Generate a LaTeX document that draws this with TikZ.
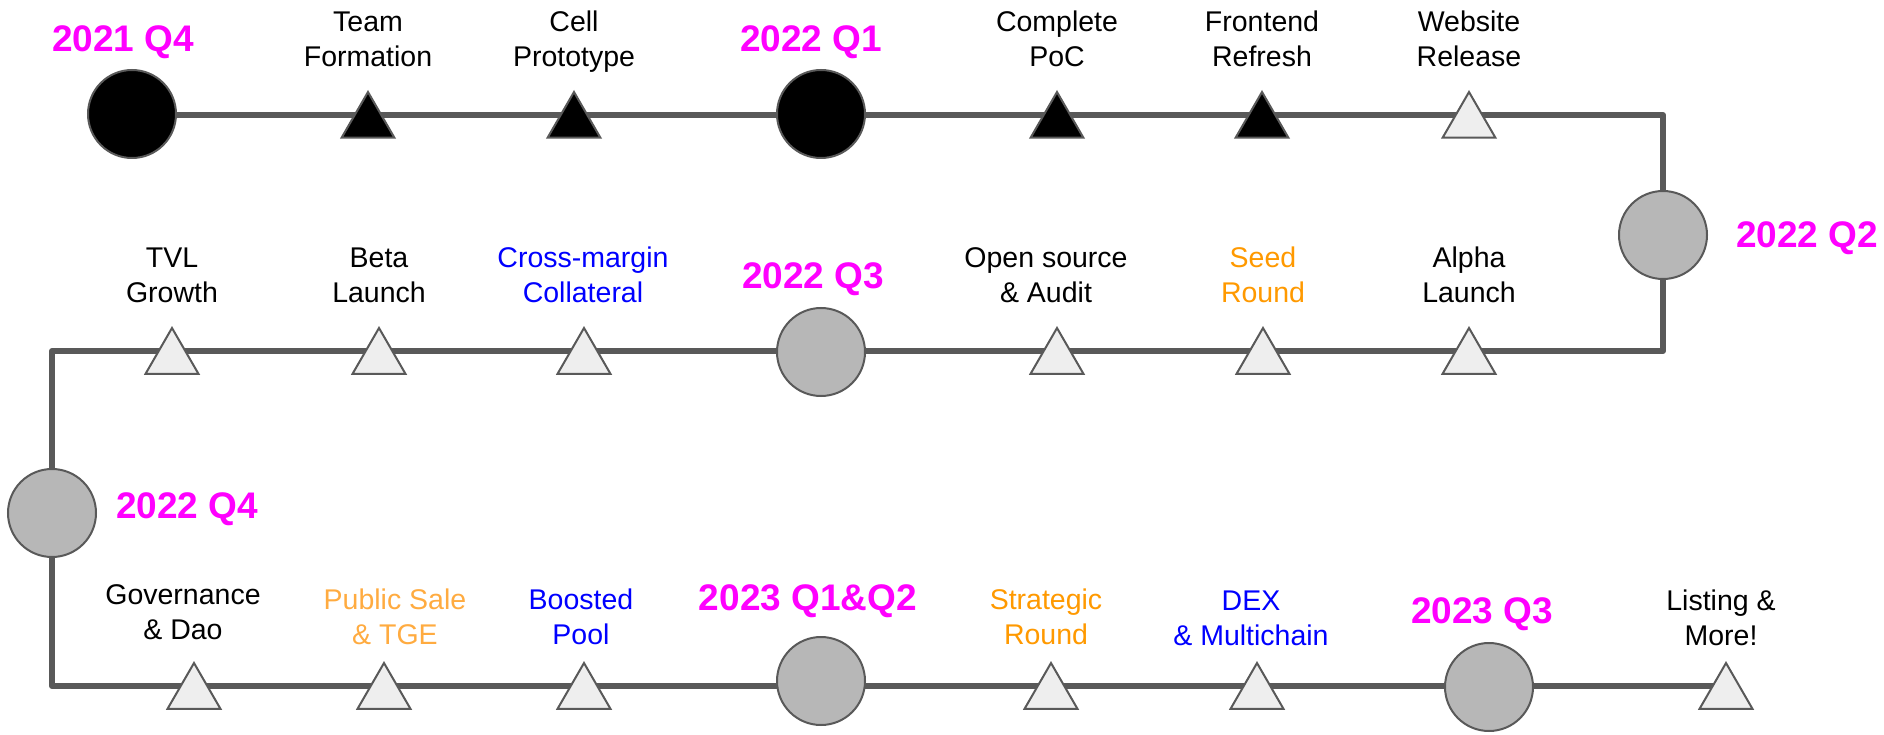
\documentclass[tikz,border=0pt]{standalone}
\usepackage{fontspec}
\setmainfont{Liberation Sans}
\usetikzlibrary{shapes.geometric}
\definecolor{roadgray}{HTML}{595959}
\definecolor{dotgray}{HTML}{B7B7B7}
\definecolor{todofill}{HTML}{EEEEEE}
\definecolor{qmagenta}{HTML}{FF00FF}
\definecolor{techblue}{HTML}{0000FF}
\definecolor{fundorange}{HTML}{FF9900}
\definecolor{saleorange}{HTML}{FFAB40}

\begin{document}
\begin{tikzpicture}[x=1pt,y=-1pt,
  road/.style={line width=6pt,draw=roadgray,line join=round},
  quarter node/.style={circle,draw=roadgray,line width=2pt,fill=dotgray,minimum size=88pt,inner sep=0pt},
  done quarter/.style={quarter node,fill=black},
  task node/.style={regular polygon,regular polygon sides=3,draw=roadgray,line width=2pt,fill=todofill,minimum size=61pt,inner sep=0pt,yshift=-7.5pt},
  done task/.style={task node,fill=black},
  task label/.style={align=center,anchor=base,inner sep=0pt,font=\fontsize{28.5}{35}\selectfont},
  quarter label/.style={anchor=base,inner sep=0pt,text=qmagenta,font=\fontsize{37}{44}\selectfont\bfseries}]

  \useasboundingbox (0,0) rectangle (1884,735);

  % the road
  \coordinate (start) at (132,115);
  \coordinate (ne) at (1663,115);
  \coordinate (se) at (1663,351);
  \coordinate (nw) at (52,351);
  \coordinate (sw) at (52,686);
  \coordinate (finish) at (1726,686);
  \draw[road] (start) -- (ne) -- (se) -- (nw) -- (sw) -- (finish);

  % first row
  \node[done quarter] (q21q4) at (132,114) {};
  \node[done task] (team) at (368,115) {};
  \node[done task] (cell) at (574,115) {};
  \node[done quarter] (q22q1) at (821,114) {};
  \node[done task] (poc) at (1057,115) {};
  \node[done task] (frontend) at (1262,115) {};
  \node[task node] (website) at (1469,115) {};

  \node[quarter label] (l21q4) at (123,52) {2021 Q4};
  \node[task label] (lteam) at (368,67) {Team\\Formation};
  \node[task label] (lcell) at (574,67) {Cell\\Prototype};
  \node[quarter label] (l22q1) at (811,52) {2022 Q1};
  \node[task label] (lpoc) at (1057,67) {Complete\\PoC};
  \node[task label] (lfrontend) at (1262,67) {Frontend\\Refresh};
  \node[task label] (lwebsite) at (1469,67) {Website\\Release};

  % second row
  \node[quarter node] (q22q2) at (1663,235) {};
  \node[quarter label,anchor=base west] (l22q2) at (1736,248) {2022 Q2};
  \node[task node] (alpha) at (1469,351) {};
  \node[task node] (seed) at (1263,351) {};
  \node[task node] (audit) at (1057,351) {};
  \node[quarter node] (q22q3) at (821,352) {};
  \node[task node] (margin) at (584,351) {};
  \node[task node] (beta) at (379,351) {};
  \node[task node] (tvl) at (172,351) {};

  \node[task label] (lalpha) at (1469,302) {Alpha\\Launch};
  \node[task label,text=fundorange] (lseed) at (1263,302) {Seed\\Round};
  \node[task label] (laudit) at (1046,302) {Open source\\\& Audit};
  \node[quarter label] (l22q3) at (813,288) {2022 Q3};
  \node[task label,text=techblue] (lmargin) at (583,302) {Cross-margin\\Collateral};
  \node[task label] (lbeta) at (379,302) {Beta\\Launch};
  \node[task label] (ltvl) at (172,302) {TVL\\Growth};

  % third row
  \node[quarter node] (q22q4) at (52,513) {};
  \node[quarter label,anchor=base west] (l22q4) at (116,518) {2022 Q4};
  \node[task node] (dao) at (194,686) {};
  \node[task node] (sale) at (384,686) {};
  \node[task node] (pool) at (584,686) {};
  \node[quarter node] (q23q12) at (821,681) {};
  \node[task node] (strategic) at (1051,686) {};
  \node[task node] (dex) at (1257,686) {};
  \node[quarter node] (q23q3) at (1489,687) {};
  \node[task node] (listing) at (1726,686) {};

  \node[task label] (ldao) at (183,639) {Governance\\\& Dao};
  \node[task label,text=saleorange] (lsale) at (395,644) {Public Sale\\\& TGE};
  \node[task label,text=techblue] (lpool) at (581,644) {Boosted\\Pool};
  \node[quarter label] (l23q12) at (808,610) {2023 Q1\&Q2};
  \node[task label,text=fundorange] (lstrategic) at (1046,644) {Strategic\\Round};
  \node[task label,text=techblue] (ldex) at (1251,645) {DEX\\\& Multichain};
  \node[quarter label] (l23q3) at (1482,623) {2023 Q3};
  \node[task label] (llisting) at (1721,645) {Listing \&\\More!};
\end{tikzpicture}
\end{document}
